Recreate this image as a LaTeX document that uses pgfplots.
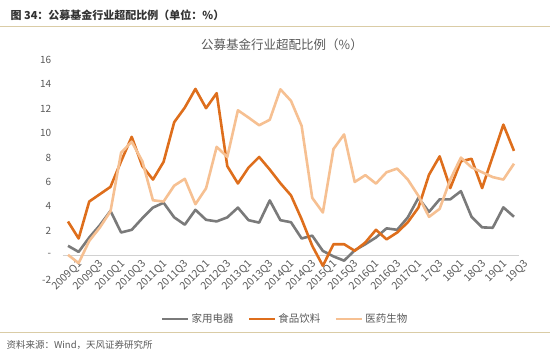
\documentclass[border=0pt]{standalone}
\usepackage{fontspec}
\setmainfont{Noto Sans CJK SC}
\usepackage{pgfplots}
\usepackage{pgfplotstable}
\pgfplotsset{compat=1.18}
\definecolor{cgray}{RGB}{122,122,122}
\definecolor{corange}{RGB}{222,110,28}
\definecolor{clight}{RGB}{246,192,146}
\definecolor{ctext}{RGB}{89,89,89}
\definecolor{crule}{RGB}{218,204,166}
\pgfplotstableread{
i gray orange light
0 0.77 2.76 0.03
1 0.27 1.37 -0.65
2 1.45 4.4 1.17
3 2.46 5.0 2.27
4 3.63 5.6 3.6
5 1.86 7.7 8.4
6 2.08 9.7 9.3
7 3.03 7.3 7.7
8 3.9 6.2 4.5
9 4.3 7.65 4.4
10 3.1 10.9 5.7
11 2.5 12.1 6.26
12 3.72 13.63 4.18
13 2.9 12.05 5.48
14 2.77 13.28 8.88
15 3.1 7.3 8.05
16 3.9 5.88 11.88
17 2.87 7.18 11.28
18 2.67 8.05 10.65
19 4.49 7.02 11.1
20 2.87 5.9 13.6
21 2.7 4.9 12.65
22 1.37 2.95 10.6
23 1.6 0.77 4.7
24 0.35 -0.87 3.5
25 -0.1 0.9 8.7
26 -0.45 0.9 9.9
27 0.4 0.36 6.0
28 0.9 1.04 6.56
29 1.45 2.08 5.87
30 2.2 1.3 6.8
31 2.08 1.86 7.1
32 3.1 2.7 6.2
33 4.7 3.9 4.86
34 3.55 6.6 3.14
35 4.58 8.1 3.8
36 4.58 5.5 6.2
37 5.25 7.7 8.0
38 3.15 7.9 7.2
39 2.28 5.5 6.8
40 2.25 8.1 6.4
41 3.92 10.7 6.2
42 3.15 8.55 7.5
}\datatable
\begin{document}
\begin{tikzpicture}
\path[use as bounding box] (0,0) rectangle (550pt,358pt);
\node[anchor=west, text=black!80, font=\fontsize{11}{13}\selectfont\bfseries] at (7pt,343pt) {图 34：公募基金行业超配比例（单位：\%）};
\draw[crule, line width=1pt] (0pt,331pt) -- (550pt,331pt);
\node[text=ctext, font=\fontsize{12.5}{14}\selectfont] at (282pt,313pt) {公募基金行业超配比例（\%）};
\draw[crule, line width=1pt] (0pt,25pt) -- (550pt,25pt);
\node[anchor=west, text=ctext, font=\fontsize{9.5}{11}\selectfont] at (3pt,13pt) {资料来源：Wind，天风证券研究所};
\begin{axis}[
  at={(62.7pt,78.4pt)}, anchor=south west,
  scale only axis, width=456.6pt, height=219.6pt,
  xmin=-0.5, xmax=42.5, ymin=-2, ymax=16,
  axis x line=middle, axis y line=left,
  x axis line style={-, draw=black!18, line width=0.8pt},
  y axis line style={draw=none},
  major tick length=0pt,
  xtick={0,2,...,42},
  xticklabels={2009Q1,2009Q3,2010Q1,2010Q3,2011Q1,2011Q3,2012Q1,2012Q3,2013Q1,2013Q3,2014Q1,2014Q3,2015Q1,2015Q3,2016Q1,2016Q3,2017Q1,17Q3,18Q1,18Q3,19Q1,19Q3},
  x tick label style={rotate=45, anchor=north east, inner sep=0pt, xshift=4pt, yshift=-9pt, font=\fontsize{10.5}{11}\selectfont, text=ctext},
  ytick={-2,0,2,4,6,8,10,12,14,16},
  yticklabels={-2,-,2,4,6,8,10,12,14,16},
  y tick label style={font=\fontsize{10}{11}\selectfont, text=ctext, xshift=-8pt},
  legend columns=3,
  legend style={draw=none, fill=none, at={(0.487,-0.179)}, anchor=center, font=\fontsize{10.5}{12}\selectfont, text=ctext, /tikz/every even column/.append style={column sep=12pt}},
  legend image code/.code={\draw[#1, line width=2.8pt] (0pt,0pt) -- (26pt,0pt);},
  clip=false,
]
\addplot[cgray, line width=2.6pt, line join=round] table[x=i, y=gray] {\datatable};
\addlegendentry{家用电器}
\addplot[corange, line width=2.6pt, line join=round] table[x=i, y=orange] {\datatable};
\addlegendentry{食品饮料}
\addplot[clight, line width=2.6pt, line join=round] table[x=i, y=light] {\datatable};
\addlegendentry{医药生物}
\end{axis}
\end{tikzpicture}
\end{document}
